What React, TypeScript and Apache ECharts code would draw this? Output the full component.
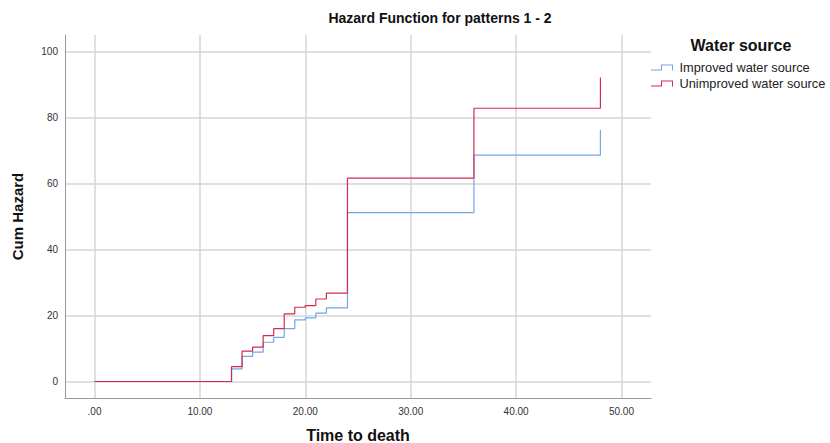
import React, { useEffect, useRef } from "react";
import * as echarts from "echarts";

const chartTitle = "Hazard Function for patterns 1 - 2";
const legendTitle = "Water source";
const seriesNames = ["Improved water source", "Unimproved water source"];

const improvedTimes = [0, 13, 14, 15, 16, 17, 18, 19, 20, 21, 22, 24, 36, 48];
const improvedHazard = [0, 3.8, 7.6, 8.9, 11.9, 13.4, 16.0, 18.7, 19.3, 20.7, 22.3, 51.2, 68.6, 76.2];

const unimprovedTimes = [0, 13, 14, 15, 16, 17, 18, 19, 20, 21, 22, 24, 36, 48];
const unimprovedHazard = [0, 4.5, 9.2, 10.4, 13.9, 16.0, 20.5, 22.5, 23.0, 25.0, 26.8, 61.6, 82.8, 92.1];

const xTicks = [0, 10, 20, 30, 40, 50];
const yTicks = [0, 20, 40, 60, 80, 100];

const FONT = "'Liberation Sans', Arial, sans-serif";
const stepIcon =
  "path://M0,5 L10,5 L10,0 L22,0 L22,6 L21,6 L21,1 L11,1 L11,6 L0,6 Z";

export default function App() {
  const ref = useRef<HTMLDivElement>(null);
  useEffect(() => {
    if (!ref.current) return;
    const chart = echarts.init(ref.current, undefined, { renderer: "svg" });
    const pair = (ts: number[], hs: number[]) => ts.map((t, i) => [t, hs[i]]);
    chart.setOption({
      animation: false,
      backgroundColor: "#ffffff",
      textStyle: { fontFamily: FONT },
      title: [
        {
          text: chartTitle,
          left: 435,
          textAlign: "center",
          top: 6,
          textStyle: { fontSize: 14, fontWeight: "bold", color: "#111", fontFamily: FONT },
        },
        {
          text: legendTitle,
          left: 736,
          textAlign: "center",
          top: 32,
          textStyle: { fontSize: 16, fontWeight: "bold", color: "#111", fontFamily: FONT },
        },
      ],
      legend: {
        orient: "vertical",
        left: 651,
        top: 61,
        padding: 0,
        itemWidth: 25,
        itemHeight: 6,
        itemGap: 3,
        icon: stepIcon,
        textStyle: { fontSize: 12.8, color: "#222", fontFamily: FONT },
        data: seriesNames,
      },
      grid: { left: 65, right: 179, top: 35, bottom: 45, outerBoundsMode: "none", containLabel: false },
      xAxis: {
        type: "value",
        min: -2.8,
        max: 52.8,
        name: "Time to death",
        nameLocation: "middle",
        nameGap: 29,
        nameTextStyle: { fontSize: 16, fontWeight: "bold", color: "#111", fontFamily: FONT },
        axisLine: { show: true, onZero: false, lineStyle: { color: "#999", width: 1 } },
        axisTick: { show: false, customValues: xTicks },
        axisLabel: {
          customValues: xTicks,
          fontSize: 10,
          color: "#333",
          margin: 8,
          formatter: (v: number) => (v === 0 ? ".00" : v.toFixed(2)),
        },
        splitLine: { show: true, lineStyle: { color: "#d6d6d6", width: 1.5 } },
      },
      yAxis: {
        type: "value",
        min: -5,
        max: 105,
        name: "Cum Hazard",
        nameLocation: "middle",
        nameGap: 40,
        nameTextStyle: { fontSize: 15, fontWeight: "bold", color: "#111", fontFamily: FONT },
        axisLine: { show: true, onZero: false, lineStyle: { color: "#999", width: 1 } },
        axisTick: { show: false, customValues: yTicks },
        axisLabel: { customValues: yTicks, fontSize: 10, color: "#333", margin: 7 },
        splitLine: { show: true, lineStyle: { color: "#d6d6d6", width: 1.5 } },
      },
      series: [
        {
          name: seriesNames[0],
          type: "line",
          step: "end",
          showSymbol: false,
          symbol: "none",
          data: pair(improvedTimes, improvedHazard),
          itemStyle: { color: "#72a6e6" },
          lineStyle: { color: "#72a6e6", width: 1.2 },
          z: 3,
        },
        {
          name: seriesNames[1],
          type: "line",
          step: "end",
          showSymbol: false,
          symbol: "none",
          data: pair(unimprovedTimes, unimprovedHazard),
          itemStyle: { color: "#d62a50" },
          lineStyle: { color: "#d62a50", width: 1.2 },
          z: 4,
        },
      ],
    });
    return () => chart.dispose();
  }, []);
  return (
    <div
      ref={ref}
      style={{ position: "fixed", left: 0, top: 0, width: 830, height: 443 }}
    />
  );
}
